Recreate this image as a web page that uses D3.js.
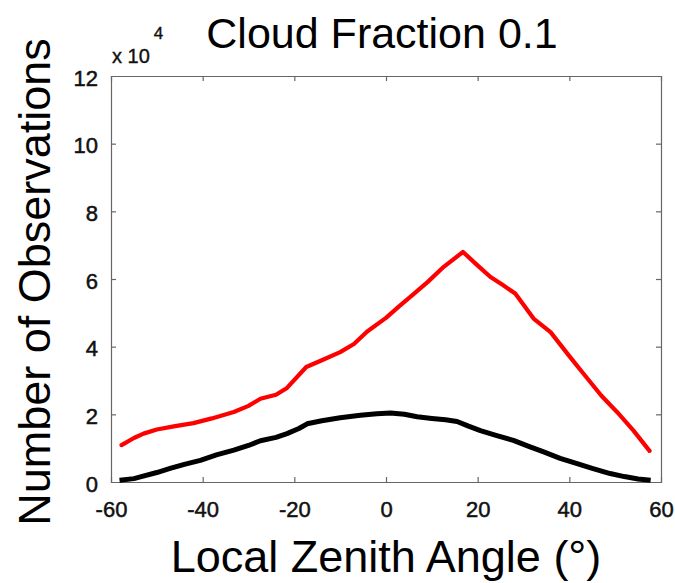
<!DOCTYPE html>
<html>
<head>
<meta charset="utf-8">
<script src="https://cdn.jsdelivr.net/npm/d3@7"></script>
<style>
  html, body { margin: 0; padding: 0; background: #fff; }
  svg { display: block; font-family: "Liberation Sans", Arial, Helvetica, sans-serif; }
</style>
</head>
<body>
<svg id="chart" width="675" height="583"></svg>
<script>
// Local zenith angle (degrees) and observation counts (x 10^4)
const redAngle = [-57.7, -55, -52.9, -50, -46, -42, -38, -33.2, -30, -27.4, -24, -21.6, -17.4, -14, -10, -7, -4.1, 0, 3.1, 5.3, 9, 12.6, 16.8, 19.9, 22.8, 25.5, 28.2, 32.2, 35.9, 40, 43.1, 47, 50.4, 54, 57.5];
const redCount = [1.09, 1.30, 1.43, 1.55, 1.65, 1.74, 1.88, 2.07, 2.25, 2.46, 2.58, 2.78, 3.40, 3.60, 3.84, 4.08, 4.45, 4.85, 5.22, 5.47, 5.90, 6.36, 6.80, 6.41, 6.06, 5.82, 5.57, 4.83, 4.43, 3.72, 3.20, 2.55, 2.07, 1.52, 0.92];

const blackAngle = [-57.6, -55, -53.6, -50, -47.1, -44, -40.5, -37, -33.2, -30, -27.4, -24, -21.6, -19, -17.2, -14, -10, -5.6, -2, 1, 4, 6.8, 10, 13, 15.5, 18, 20.6, 24, 27.8, 31, 34.4, 38, 41.7, 45, 48.9, 52, 55, 57.2];
const blackCount = [0.06, 0.10, 0.15, 0.28, 0.40, 0.52, 0.64, 0.80, 0.94, 1.08, 1.22, 1.32, 1.43, 1.58, 1.72, 1.81, 1.90, 1.97, 2.02, 2.04, 2.00, 1.93, 1.88, 1.84, 1.79, 1.65, 1.52, 1.38, 1.23, 1.06, 0.89, 0.70, 0.54, 0.40, 0.25, 0.16, 0.09, 0.06];

const xTicks = [-60, -40, -20, 0, 20, 40, 60];
const yTicks = [0, 2, 4, 6, 8, 10, 12];

const plotLeft = 111, plotRight = 661, plotTop = 76, plotBottom = 482;

const svg = d3.select("#chart");

const x = d3.scaleLinear().domain([-60, 60]).range([plotLeft, plotRight]);
const y = d3.scaleLinear().domain([0, 12]).range([plotBottom, plotTop]);

const axisColor = "#666";
const tickLen = 5;
const plainNumber = d => String(d);   // ASCII hyphen for negatives

// Axes: labelled bottom/left, tick-only top/right, ticks pointing inward
const gBottom = svg.append("g").attr("transform", `translate(0,${plotBottom})`)
  .call(d3.axisBottom(x).tickValues(xTicks).tickSize(-tickLen).tickPadding(tickLen + 14).tickFormat(plainNumber));
const gTop = svg.append("g").attr("transform", `translate(0,${plotTop})`)
  .call(d3.axisTop(x).tickValues(xTicks).tickSize(-tickLen).tickFormat(""));
const gLeft = svg.append("g").attr("transform", `translate(${plotLeft},0)`)
  .call(d3.axisLeft(y).tickValues(yTicks).tickSize(-tickLen).tickPadding(tickLen + 8).tickFormat(plainNumber));
const gRight = svg.append("g").attr("transform", `translate(${plotRight},0)`)
  .call(d3.axisRight(y).tickValues(yTicks).tickSize(-tickLen).tickFormat(""));

[gBottom, gTop, gLeft, gRight].forEach(g => {
  g.select(".domain").attr("stroke", axisColor).attr("stroke-width", 1.2);
  g.selectAll(".tick line").attr("stroke", axisColor).attr("stroke-width", 1.2);
  g.selectAll(".tick text").attr("fill", "#111").attr("font-size", 22)
    .attr("stroke", "#111").attr("stroke-width", 0.5)
    .attr("font-family", "'Liberation Sans', Arial, sans-serif");
});
gLeft.selectAll(".tick text").attr("dy", "0.42em");
// hide tick marks at the box corners
gBottom.selectAll(".tick line").filter(d => d === -60 || d === 60).remove();
gTop.selectAll(".tick line").filter(d => d === -60 || d === 60).remove();
gLeft.selectAll(".tick line").filter(d => d === 0 || d === 12).remove();
gRight.selectAll(".tick line").filter(d => d === 0 || d === 12).remove();

// Exponent marker
const expo = svg.append("text").attr("x", plotLeft + 1).attr("y", 63)
  .attr("font-size", 20).attr("fill", "#111").attr("stroke", "#111").attr("stroke-width", 0.4);
expo.append("tspan").text("x 10");
expo.append("tspan").attr("font-size", 17).attr("dx", 4).attr("dy", -24).text("4");

// Series lines
const line = d3.line().x(d => x(d[0])).y(d => y(d[1]));

svg.append("path")
  .datum(d3.zip(blackAngle, blackCount))
  .attr("fill", "none").attr("stroke", "#000").attr("stroke-width", 5)
  .attr("stroke-linejoin", "round").attr("stroke-linecap", "square")
  .attr("d", line);

svg.append("path")
  .datum(d3.zip(redAngle, redCount))
  .attr("fill", "none").attr("stroke", "#ff0000").attr("stroke-width", 4.2)
  .attr("stroke-linejoin", "round").attr("stroke-linecap", "round")
  .attr("d", line);

// Title and axis labels
svg.append("text").attr("x", 382).attr("y", 48).attr("text-anchor", "middle")
  .attr("font-size", 43).attr("fill", "#000").text("Cloud Fraction 0.1");

svg.append("text").attr("transform", "translate(50,282) rotate(-90)")
  .attr("text-anchor", "middle").attr("font-size", 45).attr("fill", "#000")
  .text("Number of Observations");

svg.append("text").attr("x", 386).attr("y", 572).attr("text-anchor", "middle")
  .attr("font-size", 45).attr("fill", "#000").text("Local Zenith Angle (°)");
</script>
</body>
</html>
